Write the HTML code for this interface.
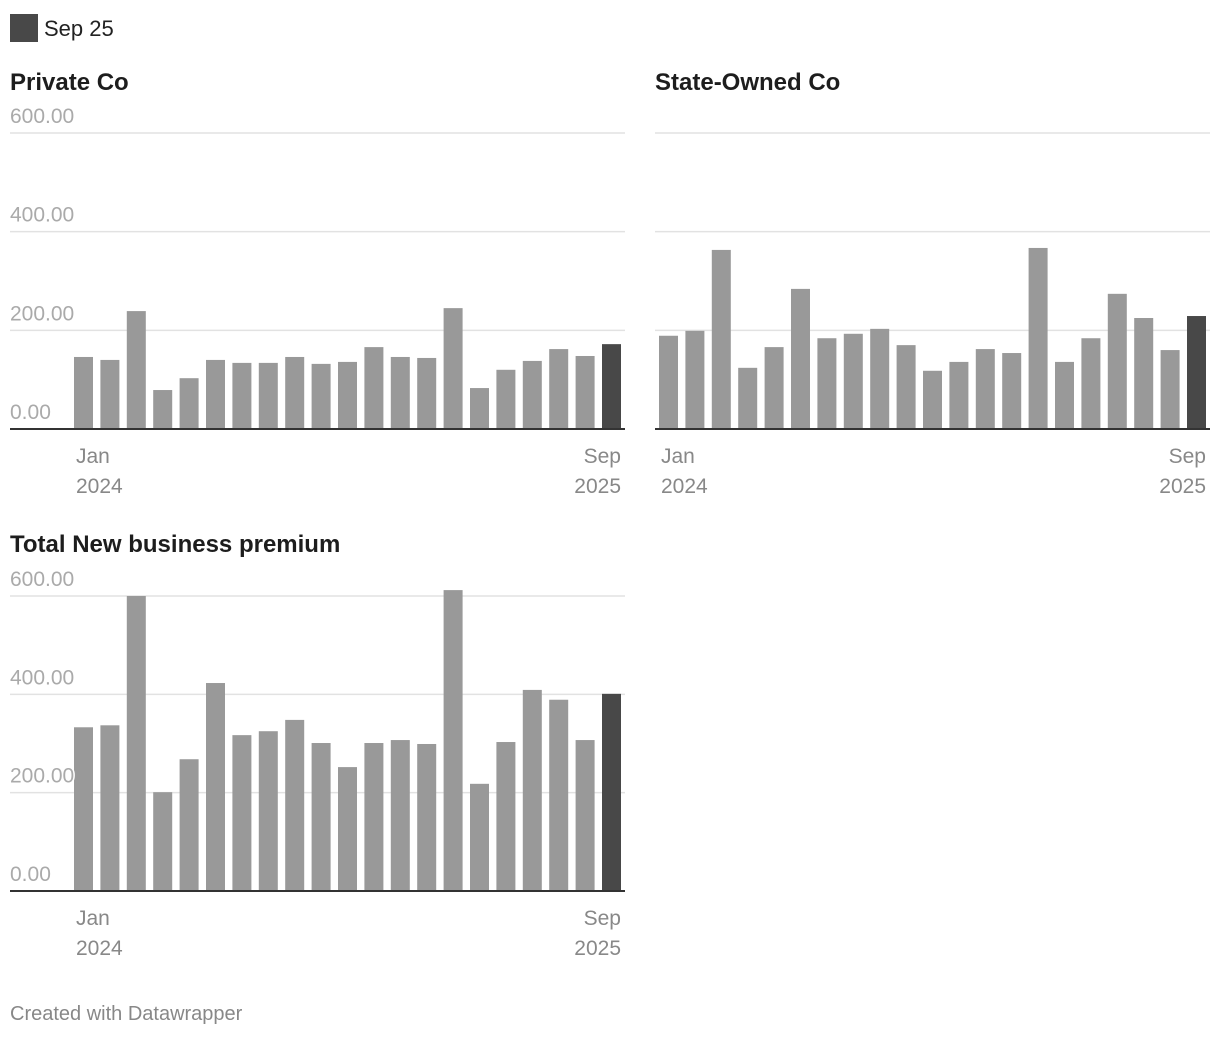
<!DOCTYPE html>
<html><head><meta charset="utf-8">
<style>
html,body{margin:0;padding:0;background:#fff;width:1220px;height:1038px;overflow:hidden;font-family:"Liberation Sans",sans-serif}
svg{display:block}
</style></head>
<body>
<svg id="chart" width="1220" height="1038" xmlns="http://www.w3.org/2000/svg">
  <g>
    <rect x="10" y="14" width="28" height="28" fill="#484848"/>
    <text x="44" y="36" font-size="22" fill="#222">Sep 25</text>
  </g>
  <text x="10" y="1020" font-size="20" fill="#888">Created with Datawrapper</text>
</svg>
<script>
const categories = ["Jan 2024","Feb 2024","Mar 2024","Apr 2024","May 2024","Jun 2024","Jul 2024","Aug 2024","Sep 2024","Oct 2024","Nov 2024","Dec 2024","Jan 2025","Feb 2025","Mar 2025","Apr 2025","May 2025","Jun 2025","Jul 2025","Aug 2025","Sep 2025"];
const privateValues = [146,140,239,79,103,140,134,134,146,132,136,166,146,144,245,83,120,138,162,148,172];
const stateValues = [189,199,363,124,166,284,184,193,203,170,118,136,162,154,367,136,184,274,225,160,229];
const totalValues = [333,337,600,201,268,423,317,325,348,301,252,301,307,299,612,218,303,409,389,307,401];
const yTicks = [0,200,400,600];
const yTickLabels = ["0.00","200.00","400.00","600.00"];

const NS = "http://www.w3.org/2000/svg";
const svg = document.getElementById("chart");
function mk(tag, attrs, parent){
  const el = document.createElementNS(NS, tag);
  for (const k in attrs) el.setAttribute(k, attrs[k]);
  parent.appendChild(el);
  return el;
}
function panel(name, title, values, x0, x1, titleY, top, base, offset, showY){
  const g = mk("g", {}, svg);
  
  
  const t = mk("text", {x:x0, y:titleY, "font-size":24, "font-weight":"bold", fill:"#1d1d1d"}, g);
  t.textContent = title;
  
  
  const yS = v => base - (v/600)*(base-top);
  yTicks.forEach((v,i)=>{
    if (v>0){
      const l = mk("line", {x1:x0, x2:x1, y1:yS(v), y2:yS(v), stroke:"#e2e2e2", "stroke-width":1.5}, g);
      
      
    }
  });
  const first = x0+offset, step = 26.4, bw = 19;
  const xS = i => first + i*step;
  values.forEach((v,i)=>{
    const r = mk("rect", {x:xS(i), y:yS(v), width:bw, height:base-yS(v), fill: i===values.length-1 ? "#484848" : "#999"}, g);
    
    
  });
  if (showY) yTicks.forEach((v,i)=>{
    const tx = mk("text", {x:x0, y:yS(v)-10, "font-size":21, fill:"#aaa", stroke:"#fff", "stroke-width":3, "paint-order":"stroke"}, g);
    tx.textContent = yTickLabels[i];
    
    
  });
  const ax = mk("line", {x1:x0, x2:x1, y1:base, y2:base, stroke:"#333", "stroke-width":2}, g);
  
  
  const labs = [["Jan","2024",xS(0)+2,"start"],["Sep","2025",xS(values.length-1)+bw,"end"]];
  labs.forEach(l=>{
    const a = mk("text", {x:l[2], y:base+34, "font-size":21, fill:"#888", "text-anchor":l[3]}, g);
    a.textContent = l[0];
    
    
    const b = mk("text", {x:l[2], y:base+64, "font-size":21, fill:"#888", "text-anchor":l[3]}, g);
    b.textContent = l[1];
    
    
  });
}
panel("private-co", "Private Co", privateValues, 10, 625, 90, 133, 429, 64, true);
panel("state-owned-co", "State-Owned Co", stateValues, 655, 1210, 90, 133, 429, 4, false);
panel("total", "Total New business premium", totalValues, 10, 625, 552, 596, 891, 64, true);
</script>
</body></html>
